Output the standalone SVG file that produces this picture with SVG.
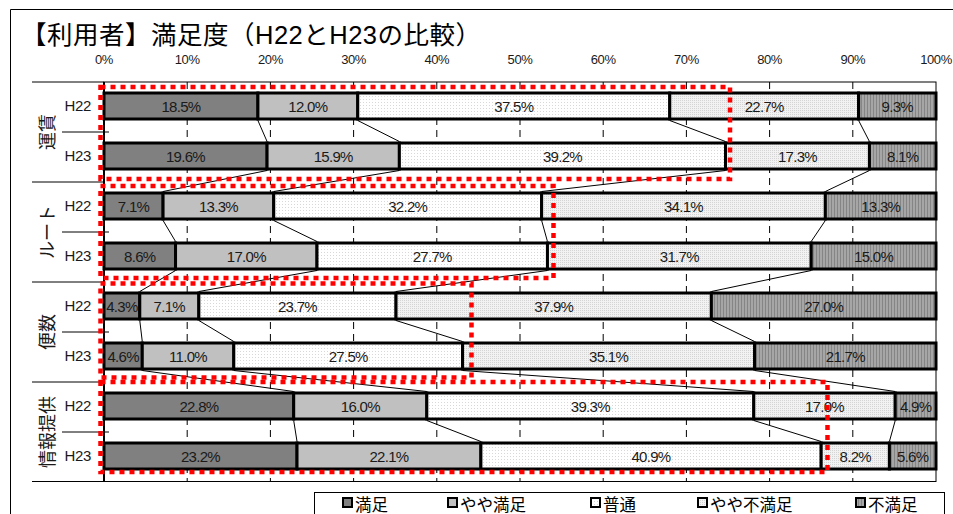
<svg xmlns="http://www.w3.org/2000/svg" width="953" height="514" viewBox="0 0 953 514">
<defs>
<pattern id="pStripe" width="3" height="3" patternUnits="userSpaceOnUse"><rect width="3" height="3" fill="#a6a6a6"/><rect width="1" height="3" fill="#858585"/></pattern>
<pattern id="pDot" width="3" height="3" patternUnits="userSpaceOnUse"><rect width="3" height="3" fill="#ffffff"/><rect width="1" height="1" fill="#d8d8d8"/></pattern>
<pattern id="pDot2" width="2" height="2" patternUnits="userSpaceOnUse"><rect width="2" height="2" fill="#f2f2f2"/><rect width="1" height="1" fill="#d4d4d4"/></pattern>
</defs>
<style>
text{font-family:"Liberation Sans","Noto Sans CJK JP",sans-serif;fill:#1a1a1a}
.t{font-size:25.5px;fill:#000}
.ax{font-size:13px;text-anchor:middle;letter-spacing:-0.4px}
.yr{font-size:15px;text-anchor:end;letter-spacing:-0.3px}
.cat{font-size:18px;text-anchor:middle}
.v{font-size:15px;text-anchor:middle;letter-spacing:-0.7px}
.lg{font-size:16.5px;fill:#000}
.s rect{stroke:#000;stroke-width:3}
.s1{fill:#808080}.s2{fill:#c0c0c0}.s3{fill:url(#pDot)}.s4{fill:url(#pDot2)}.s5{fill:url(#pStripe)}
.grid{stroke:#000;stroke-width:1;stroke-dasharray:7 5;fill:none}
.ln{stroke:#000;stroke-width:1;fill:none}
.conn{stroke:#000;stroke-width:1;fill:none}
.red{fill:none;stroke:#ff0000;stroke-width:4.5;stroke-dasharray:5 5}
.mk{stroke:#000;stroke-width:2}
</style>
<rect x="0" y="0" width="953" height="514" fill="#ffffff"/>
<path class="ln" d="M10.5,514 V9.5 H953"/>
<text class="t" x="21" y="44" textLength="460" lengthAdjust="spacing">【利用者】満足度（H22とH23の比較）</text>
<g id="axis-labels">
<text class="ax" x="104" y="64">0%</text>
<text class="ax" x="187.2" y="64">10%</text>
<text class="ax" x="270.4" y="64">20%</text>
<text class="ax" x="353.6" y="64">30%</text>
<text class="ax" x="436.8" y="64">40%</text>
<text class="ax" x="520" y="64">50%</text>
<text class="ax" x="603.2" y="64">60%</text>
<text class="ax" x="686.4" y="64">70%</text>
<text class="ax" x="769.6" y="64">80%</text>
<text class="ax" x="852.8" y="64">90%</text>
<text class="ax" x="936" y="64">100%</text>
</g>
<g id="plot-frame">
<path class="grid" d="M187.2,82V481M270.4,82V481M353.6,82V481M436.8,82V481M520,82V481M603.2,82V481M686.4,82V481M769.6,82V481M852.8,82V481"/>
<rect x="104" y="82" width="832" height="399.5" fill="none" stroke="#000" stroke-width="1"/>
<path class="ln" d="M32,82H104M32,182H104M32,282H104M32,382H104M32,481.5H104M62,132H109M62,232H109M62,332H109M62,432H109"/>
<path d="M104,82V482" stroke="#000" stroke-width="2"/>
</g>
<g id="connectors">
<path class="conn" d="M257.92,120.5L267.07,141.5M357.76,120.5L399.36,141.5M669.76,120.5L725.5,141.5M858.62,120.5L869.44,141.5
M267.07,170.5L163.07,191.5M399.36,170.5L273.73,191.5M725.5,170.5L541.63,191.5M869.44,170.5L825.34,191.5
M163.07,220.5L175.55,241.5M273.73,220.5L316.99,241.5M541.63,220.5L547.46,241.5M825.34,220.5L811.2,241.5
M175.55,270.5L139.78,291.5M316.99,270.5L198.85,291.5M547.46,270.5L396.03,291.5M811.2,270.5L711.36,291.5
M139.78,320.5L142.27,341.5M198.85,320.5L233.79,341.5M396.03,320.5L462.59,341.5M711.36,320.5L754.62,341.5
M142.27,370.5L293.7,391.5M233.79,370.5L426.82,391.5M462.59,370.5L753.79,391.5M754.62,370.5L895.23,391.5
M293.7,420.5L297.02,441.5M426.82,420.5L480.9,441.5M753.79,420.5L821.18,441.5M895.23,420.5L889.41,441.5"/>
</g>
<g id="cat-unchin">
<text class="cat" transform="translate(54,132) rotate(-90)">運賃</text>
<text class="yr" x="91" y="111">H22</text>
<text class="yr" x="91" y="161">H23</text>
<g class="s">
<rect class="s1" x="104" y="93" width="153.92" height="26"/>
<rect class="s2" x="257.92" y="93" width="99.84" height="26"/>
<rect class="s3" x="357.76" y="93" width="312" height="26"/>
<rect class="s4" x="669.76" y="93" width="188.86" height="26"/>
<rect class="s5" x="858.62" y="93" width="77.38" height="26"/>
<rect class="s1" x="104" y="143" width="163.07" height="26"/>
<rect class="s2" x="267.07" y="143" width="132.29" height="26"/>
<rect class="s3" x="399.36" y="143" width="326.14" height="26"/>
<rect class="s4" x="725.5" y="143" width="143.94" height="26"/>
<rect class="s5" x="869.44" y="143" width="66.56" height="26"/>
</g>
<text class="v" x="180.96" y="111.5">18.5%</text>
<text class="v" x="307.84" y="111.5">12.0%</text>
<text class="v" x="513.76" y="111.5">37.5%</text>
<text class="v" x="764.19" y="111.5">22.7%</text>
<text class="v" x="897.31" y="111.5">9.3%</text>
<text class="v" x="185.5" y="161.5">19.6%</text>
<text class="v" x="333.2" y="161.5">15.9%</text>
<text class="v" x="562.4" y="161.5">39.2%</text>
<text class="v" x="797.5" y="161.5">17.3%</text>
<text class="v" x="902.7" y="161.5">8.1%</text>
</g>
<g id="cat-route">
<text class="cat" transform="translate(54,232) rotate(-90)">ルート</text>
<text class="yr" x="91" y="211">H22</text>
<text class="yr" x="91" y="261">H23</text>
<g class="s">
<rect class="s1" x="104" y="193" width="59.07" height="26"/>
<rect class="s2" x="163.07" y="193" width="110.66" height="26"/>
<rect class="s3" x="273.73" y="193" width="267.9" height="26"/>
<rect class="s4" x="541.63" y="193" width="283.71" height="26"/>
<rect class="s5" x="825.34" y="193" width="110.66" height="26"/>
<rect class="s1" x="104" y="243" width="71.55" height="26"/>
<rect class="s2" x="175.55" y="243" width="141.44" height="26"/>
<rect class="s3" x="316.99" y="243" width="230.47" height="26"/>
<rect class="s4" x="547.46" y="243" width="263.74" height="26"/>
<rect class="s5" x="811.2" y="243" width="124.8" height="26"/>
</g>
<text class="v" x="133.5" y="211.5">7.1%</text>
<text class="v" x="218.4" y="211.5">13.3%</text>
<text class="v" x="407.7" y="211.5">32.2%</text>
<text class="v" x="683.5" y="211.5">34.1%</text>
<text class="v" x="880.7" y="211.5">13.3%</text>
<text class="v" x="139.8" y="261.5">8.6%</text>
<text class="v" x="246.3" y="261.5">17.0%</text>
<text class="v" x="432.2" y="261.5">27.7%</text>
<text class="v" x="679.3" y="261.5">31.7%</text>
<text class="v" x="873.6" y="261.5">15.0%</text>
</g>
<g id="cat-binsu">
<text class="cat" transform="translate(54,332) rotate(-90)">便数</text>
<text class="yr" x="91" y="311">H22</text>
<text class="yr" x="91" y="361">H23</text>
<g class="s">
<rect class="s1" x="104" y="293" width="35.78" height="26"/>
<rect class="s2" x="139.78" y="293" width="59.07" height="26"/>
<rect class="s3" x="198.85" y="293" width="197.18" height="26"/>
<rect class="s4" x="396.03" y="293" width="315.33" height="26"/>
<rect class="s5" x="711.36" y="293" width="224.64" height="26"/>
<rect class="s1" x="104" y="343" width="38.27" height="26"/>
<rect class="s2" x="142.27" y="343" width="91.52" height="26"/>
<rect class="s3" x="233.79" y="343" width="228.8" height="26"/>
<rect class="s4" x="462.59" y="343" width="292.03" height="26"/>
<rect class="s5" x="754.62" y="343" width="181.38" height="26"/>
</g>
<text class="v" x="121.9" y="311.5">4.3%</text>
<text class="v" x="169.3" y="311.5">7.1%</text>
<text class="v" x="297.4" y="311.5">23.7%</text>
<text class="v" x="553.7" y="311.5">37.9%</text>
<text class="v" x="823.7" y="311.5">27.0%</text>
<text class="v" x="123.1" y="361.5">4.6%</text>
<text class="v" x="188" y="361.5">11.0%</text>
<text class="v" x="348.2" y="361.5">27.5%</text>
<text class="v" x="608.6" y="361.5">35.1%</text>
<text class="v" x="845.3" y="361.5">21.7%</text>
</g>
<g id="cat-joho">
<text class="cat" transform="translate(54,432) rotate(-90)">情報提供</text>
<text class="yr" x="91" y="411">H22</text>
<text class="yr" x="91" y="461">H23</text>
<g class="s">
<rect class="s1" x="104" y="393" width="189.7" height="26"/>
<rect class="s2" x="293.7" y="393" width="133.12" height="26"/>
<rect class="s3" x="426.82" y="393" width="326.97" height="26"/>
<rect class="s4" x="753.79" y="393" width="141.44" height="26"/>
<rect class="s5" x="895.23" y="393" width="40.77" height="26"/>
<rect class="s1" x="104" y="443" width="193.02" height="26"/>
<rect class="s2" x="297.02" y="443" width="183.88" height="26"/>
<rect class="s3" x="480.9" y="443" width="340.28" height="26"/>
<rect class="s4" x="821.18" y="443" width="68.23" height="26"/>
<rect class="s5" x="889.41" y="443" width="46.59" height="26"/>
</g>
<text class="v" x="198.9" y="411.5">22.8%</text>
<text class="v" x="360.3" y="411.5">16.0%</text>
<text class="v" x="590.3" y="411.5">39.3%</text>
<text class="v" x="824.5" y="411.5">17.0%</text>
<text class="v" x="915.6" y="411.5">4.9%</text>
<text class="v" x="200.5" y="461.5">23.2%</text>
<text class="v" x="389" y="461.5">22.1%</text>
<text class="v" x="651" y="461.5">40.9%</text>
<text class="v" x="855.3" y="461.5">8.2%</text>
<text class="v" x="912.7" y="461.5">5.6%</text>
</g>
<g id="highlights">
<rect class="red" x="100.5" y="87" width="629.5" height="92"/>
<rect class="red" x="100.5" y="186" width="453" height="92"/>
<rect class="red" x="100.5" y="283.5" width="371" height="94"/>
<rect class="red" x="100.5" y="382" width="727" height="90"/>
</g>
<g id="legend">
<rect x="314.5" y="492.5" width="630" height="30" fill="#fff" stroke="#000" stroke-width="1"/>
<rect class="mk s1" x="343" y="498" width="9" height="9"/>
<text class="lg" x="355" y="511">満足</text>
<rect class="mk s2" x="448" y="498" width="9" height="9"/>
<text class="lg" x="460" y="511">やや満足</text>
<rect class="mk s3" x="591" y="498" width="9" height="9"/>
<text class="lg" x="603" y="511">普通</text>
<rect class="mk s4" x="698" y="498" width="9" height="9"/>
<text class="lg" x="710" y="511">やや不満足</text>
<rect class="mk s5" x="856" y="498" width="9" height="9"/>
<text class="lg" x="868" y="511">不満足</text>
</g>
</svg>
